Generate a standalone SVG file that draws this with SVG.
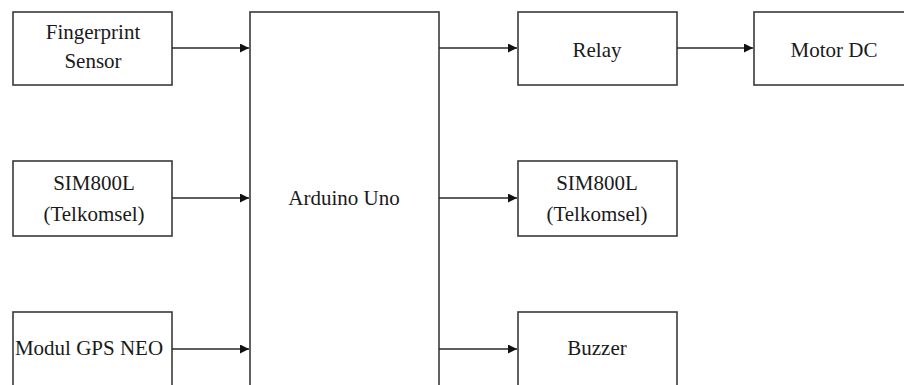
<svg xmlns="http://www.w3.org/2000/svg" width="904" height="385" viewBox="0 0 904 385">
<style>
.box{fill:#fff;stroke:#3a3a3a;stroke-width:1.6}
.t{font-family:'Liberation Serif','Tinos','Times New Roman','DejaVu Serif',serif;font-size:21px;fill:#1a1a1a;text-anchor:middle}
.c{stroke:#2a2a2a;stroke-width:1.6;fill:none;marker-end:url(#ah)}
</style>
<defs>
<marker id="ah" viewBox="0 0 10 10" refX="10" refY="5" markerWidth="10" markerHeight="9" markerUnits="userSpaceOnUse" orient="auto">
<path d="M0,0 L10,5 L0,10 z" fill="#111"/>
</marker>
</defs>
<rect width="904" height="385" fill="#fff"/>
<g id="fingerprint"><rect class="box" x="13" y="12" width="159" height="73"/><text class="t" x="93" y="39">Fingerprint</text><text class="t" x="93" y="68">Sensor</text></g>
<g id="sim800l-in"><rect class="box" x="13" y="161" width="159" height="75"/><text class="t" x="94" y="190">SIM800L</text><text class="t" x="94" y="221">(Telkomsel)</text></g>
<g id="gps"><rect class="box" x="13" y="312" width="159" height="90"/><text class="t" x="89" y="355">Modul GPS NEO</text></g>
<g id="arduino"><rect class="box" x="250" y="12" width="189" height="400"/><text class="t" x="344" y="205">Arduino Uno</text></g>
<g id="relay"><rect class="box" x="518" y="12" width="159" height="73"/><text class="t" x="597" y="57">Relay</text></g>
<g id="motor"><rect class="box" x="754" y="12" width="160" height="73"/><text class="t" x="834" y="57">Motor DC</text></g>
<g id="sim800l-out"><rect class="box" x="518" y="161" width="159" height="75"/><text class="t" x="597" y="190">SIM800L</text><text class="t" x="597" y="221">(Telkomsel)</text></g>
<g id="buzzer"><rect class="box" x="518" y="312" width="159" height="90"/><text class="t" x="597" y="355">Buzzer</text></g>
<g id="connectors">
<line class="c" x1="172" y1="48" x2="249" y2="48"/>
<line class="c" x1="172" y1="198" x2="249" y2="198"/>
<line class="c" x1="172" y1="349" x2="249" y2="349"/>
<line class="c" x1="439" y1="48" x2="517" y2="48"/>
<line class="c" x1="439" y1="198" x2="517" y2="198"/>
<line class="c" x1="439" y1="349" x2="517" y2="349"/>
<line class="c" x1="677" y1="48" x2="753" y2="48"/>
</g>
</svg>
